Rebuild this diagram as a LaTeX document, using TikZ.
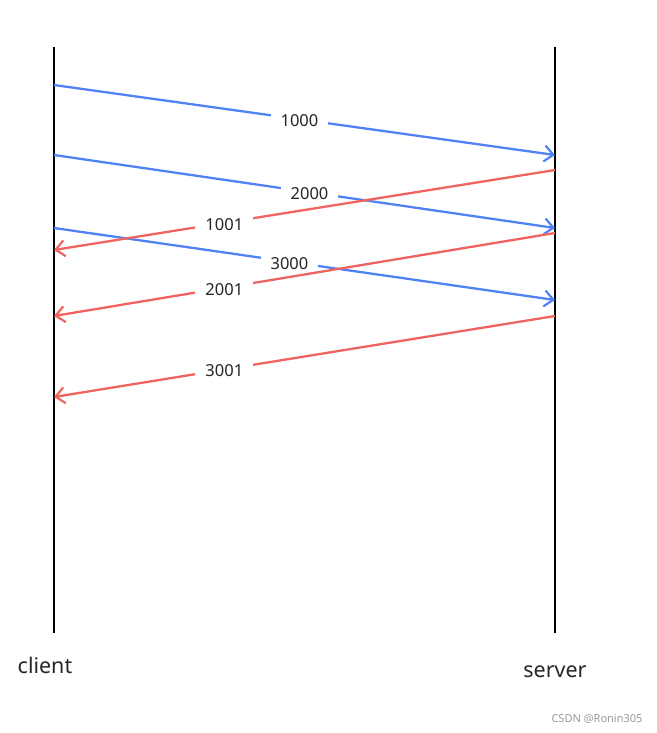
\documentclass[tikz,border=0pt]{standalone}
\usepackage{fontspec}
\setmainfont{Noto Sans}
\usetikzlibrary{arrows.meta}

\definecolor{reqblue}{RGB}{80,130,245}
\definecolor{ackred}{RGB}{240,100,95}

\tikzset{
  lifeline/.style={line width=2.4pt, black},
  msg/.style={line width=2.3pt, -{Straight Barb[length=9pt,width=16pt,line width=2.2pt]}},
  lbl/.style={fill=white, inner xsep=10pt, inner ysep=3pt, yshift=-1.5pt,
    font=\fontsize{16.5}{18}\selectfont, text=black!85},
}

\begin{document}
\begin{tikzpicture}[x=1pt, y=-1pt]
  \useasboundingbox (0, 0) rectangle (656, 733);

  % client and server lines
  \coordinate (ctop) at (54, 47);
  \coordinate (cbot) at (54, 633);
  \coordinate (stop) at (555, 47);
  \coordinate (sbot) at (555, 633);
  \draw[lifeline] (ctop) -- (cbot);
  \draw[lifeline] (stop) -- (sbot);

  % end points of the messages
  \coordinate (c1) at (54, 85);
  \coordinate (c2) at (54, 155);
  \coordinate (c3) at (54, 228);
  \coordinate (s1) at (555, 155);
  \coordinate (s2) at (555, 228);
  \coordinate (s3) at (555, 300);
  \coordinate (r1) at (555, 170);
  \coordinate (r2) at (555, 233);
  \coordinate (r3) at (555, 316);
  \coordinate (a1) at (54, 250);
  \coordinate (a2) at (54, 316);
  \coordinate (a3) at (54, 397);

  % requests
  \draw[msg, reqblue] (c1) -- node[lbl, pos=0.49] {1000} (s1);
  \draw[msg, reqblue] (c2) -- node[lbl, pos=0.51] {2000} (s2);
  \draw[msg, reqblue] (c3) -- node[lbl, pos=0.47] {3000} (s3);

  % acks
  \draw[msg, ackred] (r1) -- node[lbl, pos=0.66] {1001} (a1);
  \draw[msg, ackred] (r2) -- node[lbl, pos=0.66] {2001} (a2);
  \draw[msg, ackred] (r3) -- node[lbl, pos=0.66] {3001} (a3);

  % names
  \node[font=\fontsize{21.5}{24}\selectfont, text=black!85] (client) at (45, 665) {client};
  \node[font=\fontsize{21.5}{24}\selectfont, text=black!85] (server) at (555, 672) {server};
  \node[font=\fontsize{11}{13}\selectfont, text=black!40] (mark) at (597, 719) {CSDN @Ronin305};
\end{tikzpicture}
\end{document}
